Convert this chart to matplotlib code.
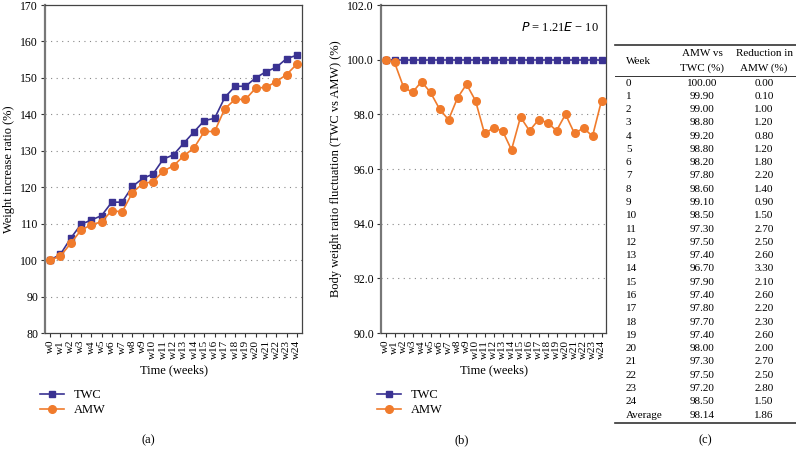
import matplotlib.pyplot as plt
from matplotlib.lines import Line2D

plt.rcParams['font.family'] = ['Liberation Serif', 'DejaVu Serif']

# data
weeks = ['w%d' % i for i in range(25)]
twc_gain = [100, 101.6, 106.0, 109.8, 111.0, 112.2, 115.9, 115.9, 120.2, 122.4,
            123.6, 127.7, 128.9, 132.1, 135.2, 138.3, 138.9, 144.7, 147.7, 147.7,
            150.0, 151.7, 152.9, 155.3, 156.2]
amw_gain = [100, 101.1, 104.6, 108.2, 109.7, 110.5, 113.6, 113.2, 118.5, 121.0,
            121.5, 124.4, 125.9, 128.6, 130.8, 135.3, 135.3, 141.6, 144.1, 144.1,
            147.2, 147.4, 149.0, 150.9, 153.8]
twc_ratio = [100.0] * 25
amw_ratio = [100.00, 99.90, 99.00, 98.80, 99.20, 98.80, 98.20, 97.80, 98.60, 99.10,
             98.50, 97.30, 97.50, 97.40, 96.70, 97.90, 97.40, 97.80, 97.70, 97.40,
             98.00, 97.30, 97.50, 97.20, 98.50]
reduction = [0.00, 0.10, 1.00, 1.20, 0.80, 1.20, 1.80, 2.20, 1.40, 0.90,
             1.50, 2.70, 2.50, 2.60, 3.30, 2.10, 2.60, 2.20, 2.30, 2.60,
             2.00, 2.70, 2.50, 2.80, 1.50]
avg_ratio = 98.14
avg_reduction = 1.86

navy = '#3a3292'
orange = '#f07b2c'

fig = plt.figure(figsize=(7.96, 4.58), dpi=100)
W, H = 796, 458


def axes_px(x0, x1, y0, y1):
    return fig.add_axes([x0 / W, 1 - y1 / H, (x1 - x0) / W, (y1 - y0) / H])


def style(ax, ylim, yticks, fmt):
    ax.set_xlim(-0.5, 24.5)
    ax.set_ylim(*ylim)
    ax.set_yticks(yticks)
    ax.set_yticklabels([fmt % v for v in yticks], fontsize=8.5)
    ax.set_xticks(range(25))
    ax.set_xticklabels(weeks, rotation=90, fontsize=8)
    ax.tick_params(length=3, width=0.8, pad=2, color='#333333')
    for s in ax.spines.values():
        s.set_color('#444444')
        s.set_linewidth(0.9)
    ax.spines['left'].set_linewidth(1.6)
    ax.spines['left'].set_color('#777777')
    for v in yticks[1:-1]:
        ax.axhline(v, color='#888888', lw=0.8, ls=(0, (1, 4)), zorder=0)
    ax.set_xlabel('Time (weeks)', fontsize=9, labelpad=4)


# (a)
ax1 = axes_px(45, 302, 5, 333)
x = range(25)
ax1.plot(x, twc_gain, color=navy, marker='s', ms=5, lw=1.2, zorder=3)
ax1.plot(x, amw_gain, color=orange, marker='o', ms=5.5, lw=1.2, zorder=4)
style(ax1, (80, 170), list(range(80, 171, 10)), '%d')
ax1.set_ylabel('Weight increase ratio (%)', fontsize=9, labelpad=4)

# (b)
ax2 = axes_px(381, 606, 5, 333)
ax2.plot(x, twc_ratio, color=navy, marker='s', ms=5, lw=1.2, zorder=3)
ax2.plot(x, amw_ratio, color=orange, marker='o', ms=5.5, lw=1.2, zorder=4)
style(ax2, (90, 102), [90, 92, 94, 96, 98, 100, 102], '%.1f')
ax2.set_ylabel('Body weight ratio fluctuation (TWC vs AMW) (%)', fontsize=9, labelpad=4)
ax2.text(0.97, 0.93, r'$P$ = 1.21$E$ − 10', transform=ax2.transAxes,
         ha='right', va='center', fontsize=9)

# legends
handles = [Line2D([], [], color=navy, marker='s', ms=5, lw=1.2, label='TWC'),
           Line2D([], [], color=orange, marker='o', ms=5.5, lw=1.2, label='AMW')]
for xl in (40, 377):
    fig.legend(handles=handles, loc='upper left', bbox_to_anchor=(xl / W, 1 - 389 / H),
               frameon=False, fontsize=9, handlelength=1.9, handletextpad=0.8,
               labelspacing=0.25, borderaxespad=0, borderpad=0)

for lbl, xc in (('(a)', 148), ('(b)', 462), ('(c)', 705)):
    fig.text(xc / W, 1 - 440 / H, lbl, ha='center', va='center', fontsize=9)

# (c) table
tx0, tx1 = 615, 796
col_week, col_ratio, col_red = 626, 702, 764
fig.add_artist(Line2D([tx0 / W, tx1 / W], [1 - 45 / H] * 2, color='#333333', lw=1.2))
fig.add_artist(Line2D([tx0 / W, tx1 / W], [1 - 76 / H] * 2, color='#333333', lw=0.7))
fig.add_artist(Line2D([tx0 / W, tx1 / W], [1 - 423 / H] * 2, color='#333333', lw=1.2))
fs = 8
fig.text(col_week / W, 1 - 61 / H, 'Week', ha='left', va='center', fontsize=fs)
fig.text(col_ratio / W, 1 - 53 / H, 'AMW vs', ha='center', va='center', fontsize=fs)
fig.text(col_ratio / W, 1 - 68 / H, 'TWC (%)', ha='center', va='center', fontsize=fs)
fig.text(col_red / W, 1 - 53 / H, 'Reduction in', ha='center', va='center', fontsize=fs)
fig.text(col_red / W, 1 - 68 / H, 'AMW (%)', ha='center', va='center', fontsize=fs)
row_h = 13.28
rows = [(str(i), '%.2f' % r, '%.2f' % d) for i, (r, d) in enumerate(zip(amw_ratio, reduction))]
rows.append(('Average', '%.2f' % avg_ratio, '%.2f' % avg_reduction))
for k, (w, r, d) in enumerate(rows):
    y = 1 - (83 + k * row_h) / H
    fig.text(col_week / W, y, w, ha='left', va='center', fontsize=fs)
    fig.text(col_ratio / W, y, r, ha='center', va='center', fontsize=fs)
    fig.text(col_red / W, y, d, ha='center', va='center', fontsize=fs)

fig.savefig('out.png', dpi=100)
